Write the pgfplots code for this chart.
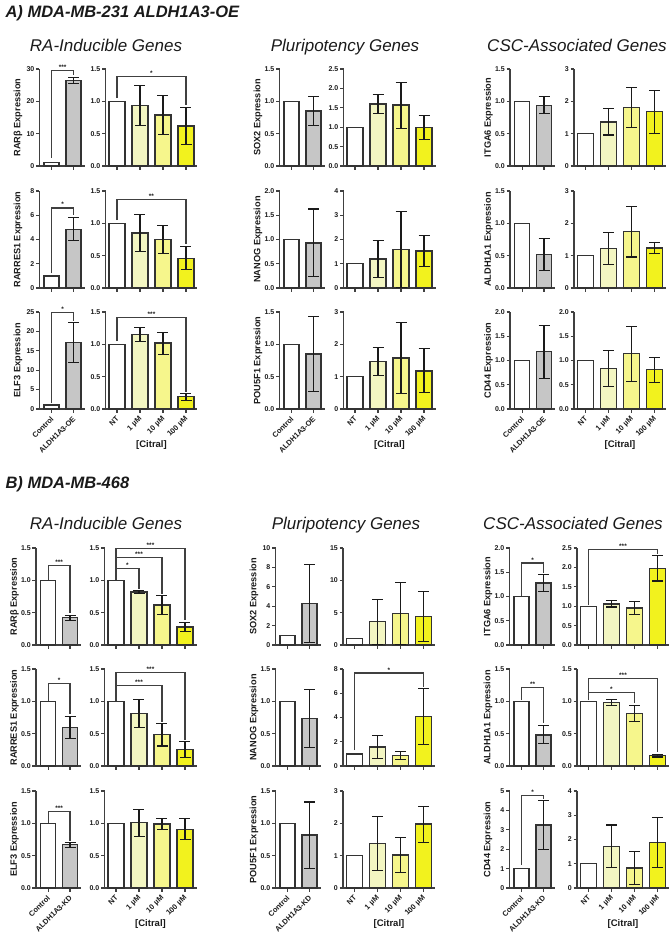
\documentclass[border=0pt]{standalone}
\usepackage{fontspec}
\setmainfont{Liberation Sans}
\usepackage{pgfplots}
\pgfplotsset{compat=1.18}
\definecolor{axc}{HTML}{404040}
\definecolor{barc}{HTML}{333333}
\definecolor{errc}{HTML}{1A1A1A}
\definecolor{txc}{HTML}{1A1A1A}
\definecolor{ohat}{HTML}{C6C6C6}
\definecolor{ca}{HTML}{F3F6C2}
\definecolor{cb}{HTML}{F6F68C}
\definecolor{cc}{HTML}{F2F21E}
\newcommand{\tickf}{\fontsize{7}{8}\selectfont\bfseries}
\newcommand{\xtf}{\fontsize{7.5}{8}\selectfont\bfseries}
\newcommand{\ylabf}{\fontsize{9.2}{10}\selectfont\bfseries}
\newcommand{\citf}{\fontsize{9.5}{10}\selectfont\bfseries}
\newcommand{\astf}{\fontsize{6.5}{7}\selectfont\bfseries}
\newcommand{\panf}{\fontsize{16.5}{18}\selectfont\bfseries\itshape}
\newcommand{\grpf}{\fontsize{17}{19}\selectfont\itshape}
\pgfplotsset{
 gpbase/.style={scale only axis, height=97pt, ymin=0, anchor=south west,
  axis x line*=bottom, axis y line*=left,
  axis line style={line width=1.2pt, draw=axc},
  tick style={line width=1.1pt, draw=axc},
  major tick length=3.5pt, tick align=outside,
  clip=false, scaled y ticks=false,
  /pgf/number format/assume math mode=true,
  tick label style={font=\tickf, text=txc},
  yticklabel style={inner sep=1.5pt},
  xticklabels={},
  ylabel style={font=\ylabf, text=txc, at={(axis description cs:-0.48,0.5)}, anchor=center},
 },
 gpL/.style={gpbase, width=45pt, xmin=-0.55, xmax=1.5, xtick={0,1}, bar width=15pt},
 gpR/.style={gpbase, width=92pt, xmin=-0.5, xmax=3.5, xtick={0,1,2,3}, bar width=16pt},
 dec/.style={yticklabel style={/pgf/number format/fixed, /pgf/number format/fixed zerofill, /pgf/number format/precision=1}},
 rotlab/.style={xticklabel style={yshift=-4.5pt, xshift=1.5pt, rotate=45, anchor=east, font=\xtf, inner sep=1pt}},
 labA/.style={xticklabels={Control,ALDH1A3-OE}, rotlab},
 labB/.style={xticklabels={Control,ALDH1A3-KD}, rotlab},
 labC/.style={xticklabels={NT,1 µM,10 µM,100 µM}, rotlab,
   xlabel={[Citral]}, xlabel style={font=\citf, text=txc, at={(axis description cs:0.5,-0.37)}, anchor=center}},
 gpbar/.style={ybar, bar shift=0pt, draw=barc, line width=1.3pt},
 gperr/.style={error bars/.cd, y dir=both, y explicit, error bar style={line width=1.1pt, draw=errc}, error mark options={rotate=90, line width=1.1pt, draw=errc, mark size=5.5pt}},
}
\tikzset{brk/.style={line width=1.1pt, draw=axc}, astn/.style={font=\astf, text=txc, above, inner sep=0.8pt}}
\newcommand{\wbar}[2]{\addplot[gpbar, fill=white] coordinates {(#1,#2)};}
\newcommand{\ebar}[5]{\addplot[gpbar, fill=#3, gperr] coordinates {(#1,#2) +=(0,#4) -=(0,#5)};}
\newcommand{\brk}[7]{\draw[brk] (axis cs:#1,#2) -- (axis cs:#1,#5) -- (axis cs:#3,#5) -- (axis cs:#3,#4); \node[astn] at (axis cs:#6,#5) {#7};}
\begin{document}
\begin{tikzpicture}
\path[use as bounding box] (0,0) rectangle (672pt,-935pt);
% titles
\node[anchor=base west, font=\panf, text=txc] at (2pt,-17pt) {A) MDA-MB-231 ALDH1A3-OE};
\node[anchor=base west, font=\panf, text=txc] at (2pt,-488pt) {B) MDA-MB-468};
\node[anchor=base, font=\grpf, text=txc] at (106pt,-51pt) {RA-Inducible Genes};
\node[anchor=base, font=\grpf, text=txc] at (345pt,-51pt) {Pluripotency Genes};
\node[anchor=base, font=\grpf, text=txc] at (577pt,-51pt) {CSC-Associated Genes};
\node[anchor=base, font=\grpf, text=txc] at (106pt,-529pt) {RA-Inducible Genes};
\node[anchor=base, font=\grpf, text=txc] at (346pt,-529pt) {Pluripotency Genes};
\node[anchor=base, font=\grpf, text=txc] at (573pt,-529pt) {CSC-Associated Genes};
%================ PANEL A : RA
\begin{axis}[gpL, at={(39.5pt,-166pt)}, ymax=30, ytick={0,10,20,30}, ylabel={RARβ Expression}]
\wbar{0}{1}
\ebar{1}{26.5}{ohat}{0.9}{0.9}
\brk{0}{2.5}{1}{28}{29.5}{0.5}{***}
\end{axis}
\begin{axis}[gpR, dec, at={(105.5pt,-166pt)}, ymax=1.5, ytick={0,0.5,1,1.5}]
\wbar{0}{1}
\ebar{1}{0.94}{ca}{0.30}{0.32}
\ebar{2}{0.79}{cb}{0.30}{0.30}
\ebar{3}{0.62}{cc}{0.29}{0.29}
\brk{0}{1.05}{3}{0.95}{1.38}{1.5}{*}
\end{axis}
\begin{axis}[gpL, at={(39.5pt,-288pt)}, ymax=8, ytick={0,2,4,6,8}, ylabel={RARRES1 Expression}]
\wbar{0}{1}
\ebar{1}{4.85}{ohat}{0.95}{0.95}
\brk{0}{1.2}{1}{6.0}{6.6}{0.5}{*}
\end{axis}
\begin{axis}[gpR, dec, at={(105.5pt,-288pt)}, ymax=1.5, ytick={0,0.5,1,1.5}]
\wbar{0}{1}
\ebar{1}{0.85}{ca}{0.29}{0.28}
\ebar{2}{0.75}{cb}{0.22}{0.22}
\ebar{3}{0.46}{cc}{0.18}{0.18}
\brk{0}{1.05}{3}{0.68}{1.37}{1.5}{**}
\end{axis}
\begin{axis}[gpL, labA, at={(39.5pt,-409pt)}, ymax=25, ytick={0,5,10,15,20,25}, ylabel={ELF3 Expression}]
\wbar{0}{1}
\ebar{1}{17.2}{ohat}{5.1}{5.1}
\brk{0}{1.5}{1}{22.8}{24.8}{0.5}{*}
\end{axis}
\begin{axis}[gpR, dec, labC, at={(105.5pt,-409pt)}, ymax=1.5, ytick={0,0.5,1,1.5}]
\wbar{0}{1}
\ebar{1}{1.15}{ca}{0.11}{0.10}
\ebar{2}{1.02}{cb}{0.17}{0.18}
\ebar{3}{0.19}{cc}{0.05}{0.06}
\brk{0}{1.05}{3}{0.27}{1.42}{1.5}{***}
\end{axis}
%================ PANEL A : Pluripotency
\begin{axis}[gpL, dec, at={(279.5pt,-166pt)}, ymax=1.5, ytick={0,0.5,1,1.5}, ylabel={SOX2 Expression}]
\wbar{0}{1}
\ebar{1}{0.85}{ohat}{0.23}{0.23}
\end{axis}
\begin{axis}[gpR, dec, at={(343.5pt,-166pt)}, ymax=2.5, ytick={0,0.5,1,1.5,2,2.5}]
\wbar{0}{1}
\ebar{1}{1.60}{ca}{0.24}{0.25}
\ebar{2}{1.57}{cb}{0.58}{0.60}
\ebar{3}{0.99}{cc}{0.31}{0.30}
\end{axis}
\begin{axis}[gpL, dec, at={(279.5pt,-288pt)}, ymax=2, ytick={0,0.5,1,1.5,2}, ylabel={NANOG Expression}]
\wbar{0}{1}
\ebar{1}{0.93}{ohat}{0.70}{0.70}
\end{axis}
\begin{axis}[gpR, at={(343.5pt,-288pt)}, ymax=4, ytick={0,1,2,3,4}]
\wbar{0}{1}
\ebar{1}{1.20}{ca}{0.77}{0.78}
\ebar{2}{1.58}{cb}{1.57}{1.57}
\ebar{3}{1.52}{cc}{0.63}{0.65}
\end{axis}
\begin{axis}[gpL, dec, labA, at={(279.5pt,-409pt)}, ymax=1.5, ytick={0,0.5,1,1.5}, ylabel={POU5F1 Expression}]
\wbar{0}{1}
\ebar{1}{0.85}{ohat}{0.58}{0.58}
\end{axis}
\begin{axis}[gpR, labC, at={(343.5pt,-409pt)}, ymax=3, ytick={0,1,2,3}]
\wbar{0}{1}
\ebar{1}{1.47}{ca}{0.43}{0.43}
\ebar{2}{1.58}{cb}{1.09}{1.10}
\ebar{3}{1.18}{cc}{0.68}{0.67}
\end{axis}
%================ PANEL A : CSC
\begin{axis}[gpL, dec, at={(510pt,-166pt)}, ymax=1.5, ytick={0,0.5,1,1.5}, ylabel={ITGA6 Expression}]
\wbar{0}{1}
\ebar{1}{0.94}{ohat}{0.13}{0.13}
\end{axis}
\begin{axis}[gpR, at={(574pt,-166pt)}, ymax=3, ytick={0,1,2,3}]
\wbar{0}{1}
\ebar{1}{1.36}{ca}{0.41}{0.40}
\ebar{2}{1.81}{cb}{0.63}{0.63}
\ebar{3}{1.68}{cc}{0.66}{0.68}
\end{axis}
\begin{axis}[gpL, dec, at={(510pt,-288pt)}, ymax=1.5, ytick={0,0.5,1,1.5}, ylabel={ALDH1A1 Expression}]
\wbar{0}{1}
\ebar{1}{0.52}{ohat}{0.25}{0.25}
\end{axis}
\begin{axis}[gpR, at={(574pt,-288pt)}, ymax=3, ytick={0,1,2,3}]
\wbar{0}{1}
\ebar{1}{1.22}{ca}{0.50}{0.50}
\ebar{2}{1.74}{cb}{0.79}{0.78}
\ebar{3}{1.24}{cc}{0.18}{0.17}
\end{axis}
\begin{axis}[gpL, dec, labA, at={(510pt,-409pt)}, ymax=2, ytick={0,0.5,1,1.5,2}, ylabel={CD44 Expression}]
\wbar{0}{1}
\ebar{1}{1.18}{ohat}{0.54}{0.55}
\end{axis}
\begin{axis}[gpR, dec, labC, at={(574pt,-409pt)}, ymax=2, ytick={0,0.5,1,1.5,2}]
\wbar{0}{1}
\ebar{1}{0.83}{ca}{0.37}{0.37}
\ebar{2}{1.14}{cb}{0.57}{0.57}
\ebar{3}{0.81}{cc}{0.25}{0.26}
\end{axis}
%================ PANEL B : RA
\begin{axis}[gpL, dec, at={(36pt,-645pt)}, ymax=1.5, ytick={0,0.5,1,1.5}, ylabel={RARβ Expression}]
\wbar{0}{1}
\ebar{1}{0.42}{ohat}{0.04}{0.04}
\brk{0}{1.0}{1}{0.5}{1.23}{0.5}{***}
\end{axis}
\begin{axis}[gpR, dec, at={(104.5pt,-645pt)}, ymax=1.5, ytick={0,0.5,1,1.5}]
\wbar{0}{1}
\ebar{1}{0.82}{ca}{0.02}{0.02}
\ebar{2}{0.62}{cb}{0.14}{0.15}
\ebar{3}{0.28}{cc}{0.07}{0.07}
\brk{0}{1.0}{1}{0.87}{1.18}{0.5}{*}
\brk{0}{1.0}{2}{0.79}{1.35}{1}{***}
\brk{0}{1.0}{3}{0.38}{1.49}{1.5}{***}
\end{axis}
\begin{axis}[gpL, dec, at={(36pt,-766pt)}, ymax=1.5, ytick={0,0.5,1,1.5}, ylabel={RARRES1 Expression}]
\wbar{0}{1}
\ebar{1}{0.60}{ohat}{0.17}{0.18}
\brk{0}{1.0}{1}{0.8}{1.27}{0.5}{*}
\end{axis}
\begin{axis}[gpR, dec, at={(104.5pt,-766pt)}, ymax=1.5, ytick={0,0.5,1,1.5}]
\wbar{0}{1}
\ebar{1}{0.81}{ca}{0.22}{0.22}
\ebar{2}{0.49}{cb}{0.17}{0.18}
\ebar{3}{0.26}{cc}{0.12}{0.13}
\brk{0}{1.0}{2}{0.68}{1.24}{1}{***}
\brk{0}{1.0}{3}{0.40}{1.45}{1.5}{***}
\end{axis}
\begin{axis}[gpL, dec, labB, at={(36pt,-888pt)}, ymax=1.5, ytick={0,0.5,1,1.5}, ylabel={ELF3 Expression}]
\wbar{0}{1}
\ebar{1}{0.67}{ohat}{0.03}{0.04}
\brk{0}{1.0}{1}{0.73}{1.19}{0.5}{***}
\end{axis}
\begin{axis}[gpR, dec, labC, at={(104.5pt,-888pt)}, ymax=1.5, ytick={0,0.5,1,1.5}]
\wbar{0}{1}
\ebar{1}{1.01}{ca}{0.20}{0.21}
\ebar{2}{0.99}{cb}{0.09}{0.09}
\ebar{3}{0.91}{cc}{0.16}{0.16}
\end{axis}
%================ PANEL B : Pluripotency
\begin{axis}[gpL, at={(275.5pt,-645pt)}, ymax=10, ytick={0,2,4,6,8,10}, ylabel={SOX2 Expression}]
\wbar{0}{1}
\ebar{1}{4.3}{ohat}{4.0}{4.0}
\end{axis}
\begin{axis}[gpR, at={(343pt,-645pt)}, ymax=15, ytick={0,5,10,15}]
\wbar{0}{1}
\ebar{1}{3.6}{ca}{3.5}{3.5}
\ebar{2}{4.9}{cb}{4.8}{4.8}
\ebar{3}{4.4}{cc}{3.9}{3.9}
\end{axis}
\begin{axis}[gpL, dec, at={(275.5pt,-766pt)}, ymax=1.5, ytick={0,0.5,1,1.5}, ylabel={NANOG Expression}]
\wbar{0}{1}
\ebar{1}{0.73}{ohat}{0.45}{0.44}
\end{axis}
\begin{axis}[gpR, at={(343pt,-766pt)}, ymax=8, ytick={0,2,4,6,8}]
\wbar{0}{1}
\ebar{1}{1.58}{ca}{0.92}{0.93}
\ebar{2}{0.85}{cb}{0.35}{0.35}
\ebar{3}{4.1}{cc}{2.3}{2.3}
\brk{0}{1.3}{3}{6.5}{7.67}{1.5}{*}
\end{axis}
\begin{axis}[gpL, dec, labB, at={(275.5pt,-888pt)}, ymax=1.5, ytick={0,0.5,1,1.5}, ylabel={POU5F1 Expression}]
\wbar{0}{1}
\ebar{1}{0.82}{ohat}{0.51}{0.52}
\end{axis}
\begin{axis}[gpR, labC, at={(343pt,-888pt)}, ymax=3, ytick={0,1,2,3}]
\wbar{0}{1}
\ebar{1}{1.38}{ca}{0.82}{0.83}
\ebar{2}{1.02}{cb}{0.53}{0.55}
\ebar{3}{1.98}{cc}{0.54}{0.56}
\end{axis}
%================ PANEL B : CSC
\begin{axis}[gpL, dec, at={(509.5pt,-645pt)}, ymax=2, ytick={0,0.5,1,1.5,2}, ylabel={ITGA6 Expression}]
\wbar{0}{1}
\ebar{1}{1.28}{ohat}{0.17}{0.17}
\brk{0}{1.02}{1}{1.48}{1.69}{0.5}{*}
\end{axis}
\begin{axis}[gpR, dec, at={(577pt,-645pt)}, ymax=2.5, ytick={0,0.5,1,1.5,2,2.5}]
\wbar{0}{1}
\ebar{1}{1.06}{ca}{0.08}{0.08}
\ebar{2}{0.95}{cb}{0.16}{0.17}
\ebar{3}{1.98}{cc}{0.33}{0.33}
\brk{0}{1.02}{3}{2.35}{2.45}{1.5}{***}
\end{axis}
\begin{axis}[gpL, dec, at={(509.5pt,-766pt)}, ymax=1.5, ytick={0,0.5,1,1.5}, ylabel={ALDH1A1 Expression}]
\wbar{0}{1}
\ebar{1}{0.48}{ohat}{0.14}{0.13}
\brk{0}{1.02}{1}{0.66}{1.22}{0.5}{**}
\end{axis}
\begin{axis}[gpR, dec, at={(577pt,-766pt)}, ymax=1.5, ytick={0,0.5,1,1.5}]
\wbar{0}{1}
\ebar{1}{0.98}{ca}{0.05}{0.05}
\ebar{2}{0.81}{cb}{0.13}{0.12}
\ebar{3}{0.16}{cc}{0.02}{0.02}
\brk{0}{1.02}{2}{0.98}{1.14}{1}{*}
\brk{0}{1.02}{3}{0.22}{1.36}{1.5}{***}
\end{axis}
\begin{axis}[gpL, labB, at={(509.5pt,-888pt)}, ymax=5, ytick={0,1,2,3,4,5}, ylabel={CD44 Expression}]
\wbar{0}{1}
\ebar{1}{3.25}{ohat}{1.25}{1.25}
\brk{0}{1.2}{1}{4.6}{4.75}{0.5}{*}
\end{axis}
\begin{axis}[gpR, labC, at={(577pt,-888pt)}, ymax=4, ytick={0,1,2,3,4}]
\wbar{0}{1}
\ebar{1}{1.72}{ca}{0.88}{0.87}
\ebar{2}{0.82}{cb}{0.68}{0.67}
\ebar{3}{1.88}{cc}{1.02}{1.03}
\end{axis}
\end{tikzpicture}
\end{document}
